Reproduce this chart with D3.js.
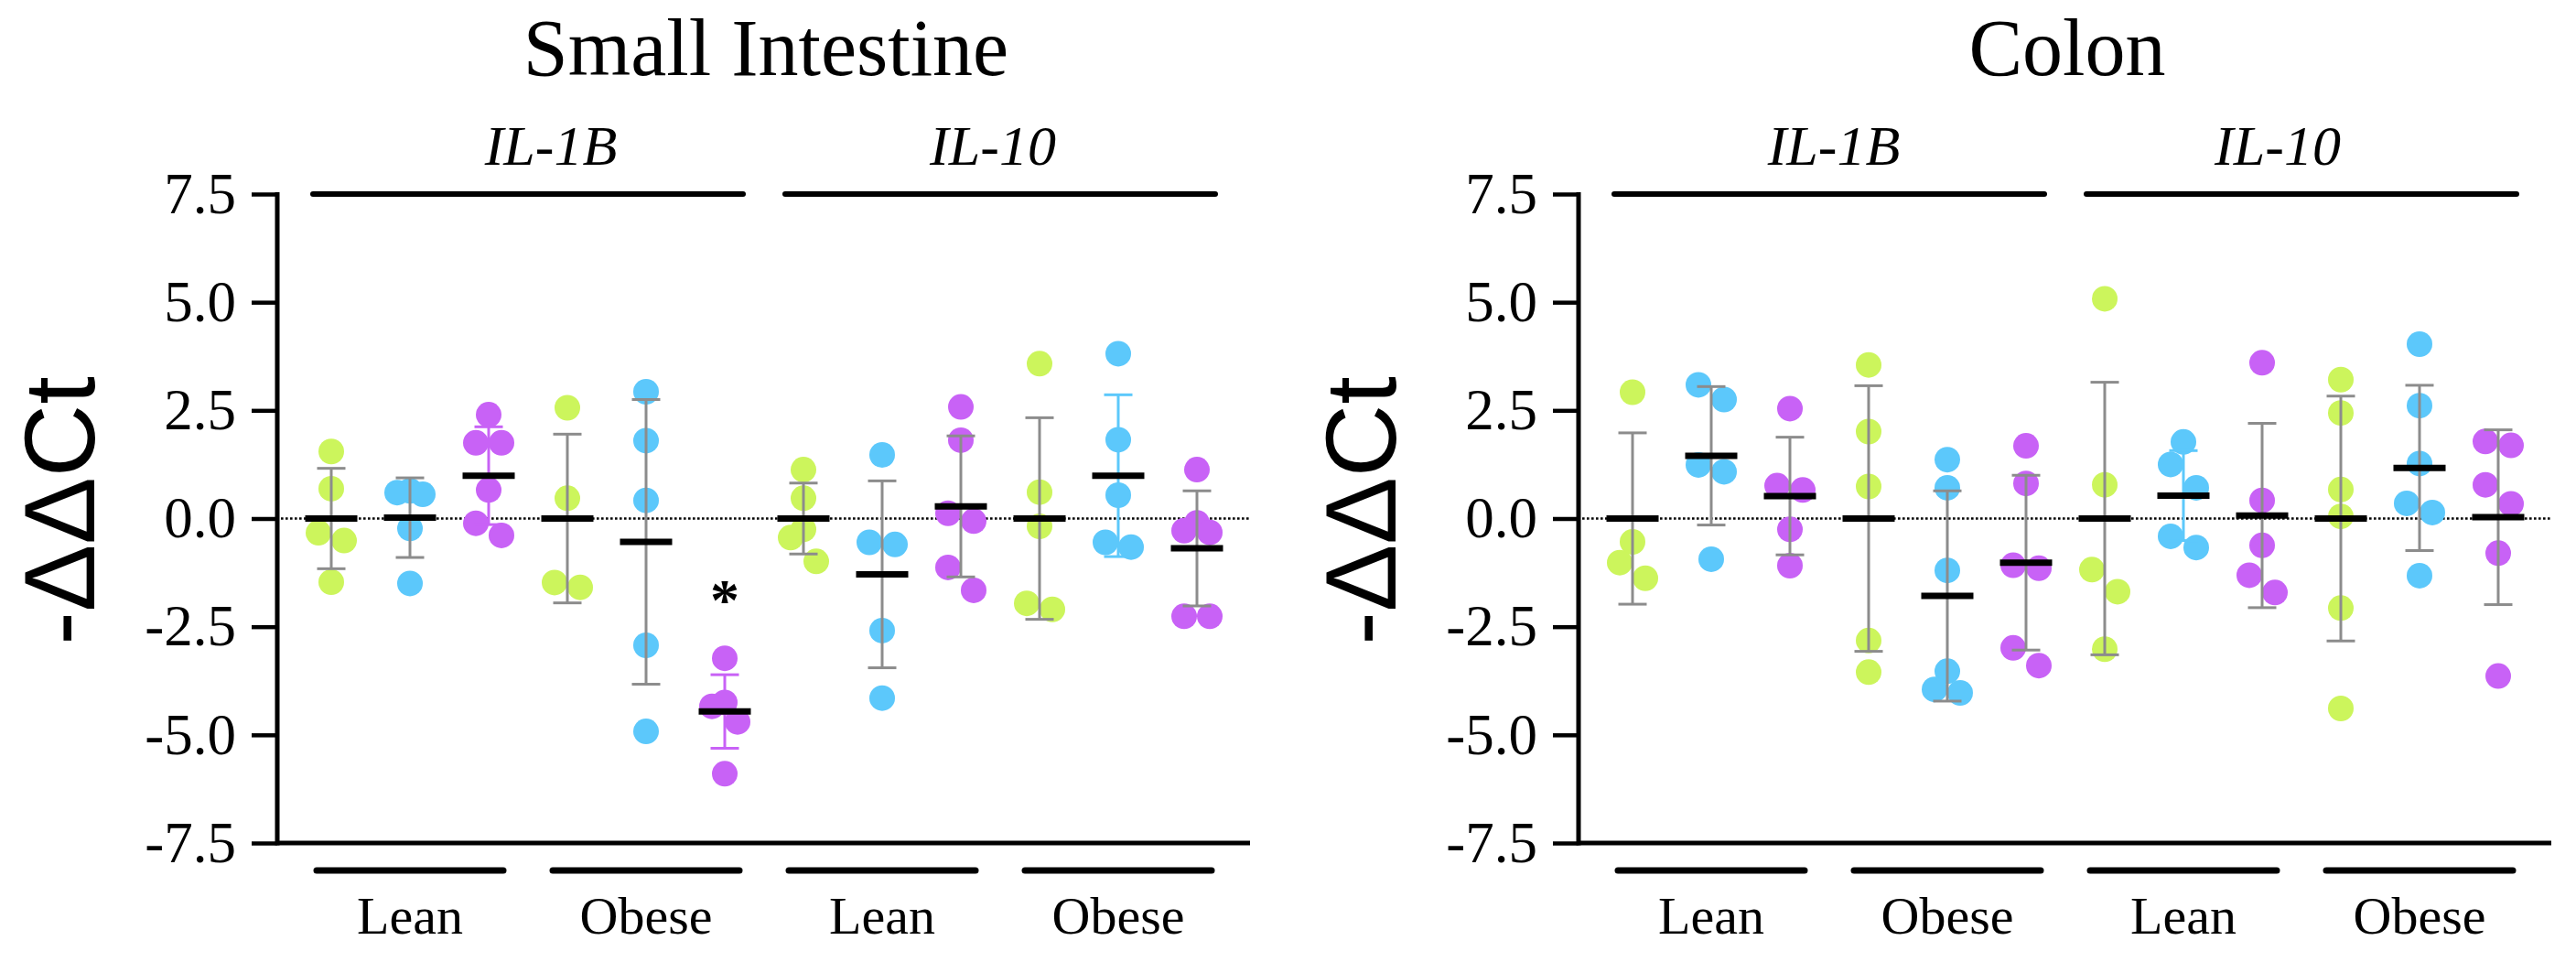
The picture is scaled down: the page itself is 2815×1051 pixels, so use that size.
<!DOCTYPE html>
<html>
<head>
<meta charset="utf-8">
<script src="https://cdn.jsdelivr.net/npm/d3@7"></script>
<style>
  html, body { margin: 0; padding: 0; background: #fff; }
  svg { display: block; }
  text { font-family: "Liberation Serif", "Times New Roman", serif; fill: #000; }
  text.ylab { font-family: "Liberation Sans", Arial, sans-serif; }
</style>
</head>
<body>
<svg id="chart" width="2815" height="1051"></svg>
<script>
// ---------------- DATA ----------------
const panelTitles = ["Small Intestine", "Colon"];
const genes = ["IL-1B", "IL-10"];
const groups = ["Lean", "Obese", "Lean", "Obese"];
const seriesColors = ["#ccf55c", "#5cc8fb", "#c862f6"];
const yTicks = [-7.5, -5.0, -2.5, 0.0, 2.5, 5.0, 7.5];
const yLabel = "-\u0394\u0394Ct";

// Small Intestine: 12 columns (Lean IL-1B x3, Obese IL-1B x3, Lean IL-10 x3, Obese IL-10 x3)
const siPoints = [
  [1.55, 0.69, -0.33, -0.51, -1.47],
  [0.64, 0.60, 0.56, -0.23, -1.50],
  [2.40, 1.75, 1.75, 0.66, -0.11, -0.39],
  [2.56, 0.47, -1.48, -1.59],
  [2.93, 1.80, 0.42, -2.93, -4.92],
  [-3.23, -4.25, -4.34, -4.70, -5.90],
  [1.13, 0.47, -0.25, -0.44, -0.99],
  [1.47, -0.55, -0.60, -2.59, -4.15],
  [2.58, 1.81, 0.12, -0.06, -1.13, -1.66],
  [3.58, 0.61, -0.18, -1.96, -2.10],
  [3.81, 1.82, 0.54, -0.55, -0.66],
  [1.13, -0.10, -0.28, -0.32, -2.26, -2.26]
];
const siMeans = [0.00, 0.02, 0.99, 0.00, -0.54, -4.46, 0.00, -1.29, 0.28, 0.00, 0.99, -0.69];
const siSD    = [1.16, 0.92, 1.13, 1.95, 3.29, 0.85, 0.82, 2.16, 1.63, 2.33, 1.87, 1.33];
const siColoredBars = [2, 5, 10];
const siStars = [{ col: 5, value: -1.73 }];

// Colon
const coPoints = [
  [2.92, -0.54, -1.02, -1.38],
  [3.09, 2.75, 1.24, 1.08, -0.94],
  [2.54, 0.76, 0.66, -0.25, -1.09],
  [3.55, 2.01, 0.74, -2.82, -3.55],
  [1.36, 0.71, -1.20, -3.53, -3.95, -4.03],
  [1.68, 0.81, -1.08, -1.15, -2.99, -3.40],
  [5.08, 0.78, -1.18, -1.69, -3.02],
  [1.77, 1.25, 0.71, -0.41, -0.67],
  [3.60, 0.42, -0.62, -1.31, -1.71],
  [3.21, 2.44, 0.67, 0.05, -2.07, -4.39],
  [4.03, 2.61, 1.27, 0.35, 0.14, -1.32],
  [1.78, 1.69, 0.78, 0.34, -0.80, -3.64]
];
const coMeans = [0.00, 1.45, 0.52, 0.00, -1.79, -1.02, 0.00, 0.53, 0.07, 0.00, 1.17, 0.03];
const coSD    = [1.98, 1.60, 1.36, 3.07, 2.43, 2.02, 3.15, 1.04, 2.13, 2.83, 1.91, 2.02];
const coColoredBars = [7];
const coStars = [];

// ---------------- LAYOUT ----------------
const svg = d3.select("#chart");
svg.append("rect").attr("width", 2815).attr("height", 1051).attr("fill", "#fff");

const axisX = 303;
const panelOffsets = [0, 1422];
const geneLabelShift = [[25, -8], [5, -26]];
const y = d3.scaleLinear().domain([-7.5, 7.5]).range([921, 212]);
const x = d3.scalePoint().domain(d3.range(12)).range([362, 1308]);
const xEnd = 1366;
const R = 14, JIT = 14;
const serif = "'Liberation Serif','Times New Roman',serif";

function jitter(vals) {
  const sorted = vals.map((v, i) => ({ v, i })).sort((a, b) => b.v - a.v);
  const chains = [];
  let cur = [];
  sorted.forEach((p, k) => {
    if (k === 0 || (y(p.v) - y(sorted[k - 1].v)) >= 2 * R) {
      if (cur.length) chains.push(cur);
      cur = [p];
    } else cur.push(p);
  });
  if (cur.length) chains.push(cur);
  const out = [];
  chains.forEach(ch => {
    let offs;
    if (ch.length === 1) offs = [0];
    else if (ch.length === 3) offs = [0, -JIT, JIT];
    else offs = ch.map((_, k) => (k % 2 === 0 ? -JIT : JIT));
    ch.forEach((p, k) => out.push({ v: p.v, dx: offs[k] }));
  });
  return out;
}

function drawPanel(idx, points, means, sds, coloredBars, stars) {
  const g = svg.append("g").attr("transform", `translate(${panelOffsets[idx]},0)`);

  // Title
  g.append("text").attr("x", 837).attr("y", 82)
    .attr("text-anchor", "middle").attr("font-size", 88).text(panelTitles[idx]);

  // Y label
  g.append("text").attr("class", "ylab").attr("transform", "translate(103,558) rotate(-90)")
    .attr("text-anchor", "middle").attr("font-size", 110).text(yLabel);

  // Y axis
  const yAxis = d3.axisLeft(y).tickValues(yTicks).tickFormat(d => d.toFixed(1))
    .tickSize(28).tickSizeOuter(0).tickPadding(17);
  const ag = g.append("g").attr("transform", `translate(${axisX},0)`).call(yAxis);
  ag.select(".domain").attr("stroke", "#000").attr("stroke-width", 5)
    .attr("d", `M0,${y(-7.5) + 2.5}V${y(7.5) - 2}`);
  ag.selectAll(".tick line").attr("stroke", "#000").attr("stroke-width", 4.5);
  ag.selectAll(".tick text").attr("font-size", 63)
    .style("font-family", serif).attr("fill", "#000");

  // X axis baseline
  g.append("line").attr("x1", axisX).attr("x2", xEnd)
    .attr("y1", y(-7.5)).attr("y2", y(-7.5)).attr("stroke", "#000").attr("stroke-width", 5);

  // Zero dotted line
  g.append("line").attr("x1", axisX + 4).attr("x2", xEnd)
    .attr("y1", y(0)).attr("y2", y(0)).attr("stroke", "#000")
    .attr("stroke-width", 2.6).attr("stroke-dasharray", "2.6,2.4");

  // Gene brackets on top
  genes.forEach((gn, gi) => {
    const cx = (x(gi * 6) + x(gi * 6 + 5)) / 2;
    g.append("line").attr("x1", cx - 235).attr("x2", cx + 235)
      .attr("y1", y(7.5)).attr("y2", y(7.5))
      .attr("stroke", "#000").attr("stroke-width", 6).attr("stroke-linecap", "round");
    g.append("text").attr("x", cx + geneLabelShift[idx][gi]).attr("y", 180)
      .attr("text-anchor", "middle").attr("font-size", 62).attr("font-style", "italic").text(gn);
  });

  // Group brackets at bottom
  groups.forEach((gr, gi) => {
    const cx = (x(gi * 3) + x(gi * 3 + 2)) / 2;
    g.append("line").attr("x1", cx - 102).attr("x2", cx + 102)
      .attr("y1", 951).attr("y2", 951)
      .attr("stroke", "#000").attr("stroke-width", 7).attr("stroke-linecap", "round");
    g.append("text").attr("x", cx).attr("y", 1020)
      .attr("text-anchor", "middle").attr("font-size", 58).text(gr);
  });

  // Points
  points.forEach((vals, ci) => {
    const col = seriesColors[ci % 3];
    g.append("g").selectAll("circle").data(jitter(vals)).join("circle")
      .attr("cx", d => x(ci) + d.dx).attr("cy", d => y(d.v)).attr("r", R)
      .attr("fill", col);
  });

  // Error bars
  means.forEach((m, ci) => {
    const col = coloredBars.includes(ci) ? seriesColors[ci % 3] : "#8c8c8c";
    const cx = x(ci), sd = sds[ci];
    const eg = g.append("g").attr("stroke", col).attr("stroke-width", 3);
    eg.append("line").attr("x1", cx).attr("x2", cx).attr("y1", y(m - sd)).attr("y2", y(m + sd));
    [m - sd, m + sd].forEach(v => {
      eg.append("line").attr("x1", cx - 15.5).attr("x2", cx + 15.5).attr("y1", y(v)).attr("y2", y(v));
    });
  });

  // Mean lines
  g.append("g").selectAll("line").data(means).join("line")
    .attr("x1", (d, i) => x(i) - 28.5).attr("x2", (d, i) => x(i) + 28.5)
    .attr("y1", d => y(d)).attr("y2", d => y(d))
    .attr("stroke", "#000").attr("stroke-width", 7);

  // Significance stars
  stars.forEach(s => {
    g.append("text").attr("x", x(s.col)).attr("y", y(s.value) + 29)
      .attr("text-anchor", "middle").attr("font-size", 64).attr("font-weight", "bold").text("*");
  });
}

drawPanel(0, siPoints, siMeans, siSD, siColoredBars, siStars);
drawPanel(1, coPoints, coMeans, coSD, coColoredBars, coStars);
</script>
</body>
</html>
